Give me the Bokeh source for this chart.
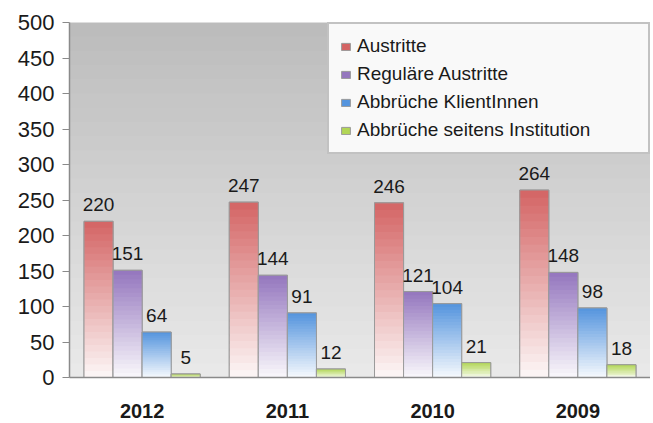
from bokeh.plotting import figure
from bokeh.models import ColumnDataSource, FactorRange, LabelSet, BoxAnnotation, FixedTicker
from bokeh.transform import dodge
from bokeh.core.properties import value
from bokeh.embed import file_html
from bokeh.resources import INLINE

years = ["2012", "2011", "2010", "2009"]
austritte = [220, 247, 246, 264]
regulaere = [151, 144, 121, 148]
abbr_klient = [64, 91, 104, 98]
abbr_inst = [5, 12, 21, 18]
series_names = ["Austritte", "Reguläre Austritte", "Abbrüche KlientInnen", "Abbrüche seitens Institution"]
y_ticks = [0, 50, 100, 150, 200, 250, 300, 350, 400, 450, 500]

series = [austritte, regulaere, abbr_klient, abbr_inst]
base_colors = [(212, 100, 100), (148, 118, 190), (84, 148, 222), (178, 214, 86)]
offsets = [-0.3, -0.1, 0.1, 0.3]
BAR_W = 0.2
FONT = "Liberation Sans"

p = figure(x_range=FactorRange(*years, range_padding=0), y_range=(0, 500),
           width=650, height=420, output_backend="svg", toolbar_location=None,
           min_border_left=69, min_border_top=22, min_border_bottom=43, min_border_right=0)
p.background_fill_color = "#d6d6d6"
p.border_fill_color = "white"
p.outline_line_color = None
p.xgrid.grid_line_color = None
p.ygrid.grid_line_color = None

# vertical gradient background (lighter at the bottom)
NB = 25
top_c = (188, 188, 188)
bot_c = (234, 234, 234)
for i in range(NB):
    f = (i + 0.5) / NB
    c = tuple(int(bot_c[j] + (top_c[j] - bot_c[j]) * f) for j in range(3))
    p.add_layout(BoxAnnotation(bottom=500 * i / NB, top=500 * min(i + 1.5, NB) / NB,
                               fill_color="#%02x%02x%02x" % c, fill_alpha=1.0,
                               line_color=None, level="underlay"))

def mix(c, t):
    # t=0 -> base colour, t=1 -> white
    return "#%02x%02x%02x" % tuple(int(c[j] + (255 - c[j]) * t) for j in range(3))

NS = 24
for name, vals, col, off in zip(series_names, series, base_colors, offsets):
    src = ColumnDataSource(dict(x=years, top=vals, label=[str(v) for v in vals]))
    p.vbar(x=dodge("x", off, range=p.x_range), top="top", width=BAR_W, source=src,
           fill_color=mix(col, 0.0), line_color="#9a9a9a", line_width=1,
           legend_label=name)
    # gradient slices (overlapping to avoid seams)
    for k in range(NS):
        sl = ColumnDataSource(dict(x=years,
                                   bottom=[v * k / NS for v in vals],
                                   top=[v * min(k + 1.6, NS) / NS for v in vals]))
        t = 0.95 * (1 - (k + 0.5) / NS)
        p.vbar(x=dodge("x", off, range=p.x_range), bottom="bottom", top="top", width=BAR_W,
               source=sl, fill_color=mix(col, t), line_color=None)
    # outline on top
    p.vbar(x=dodge("x", off, range=p.x_range), top="top", width=BAR_W, source=src,
           fill_color=None, line_color="#9a9a9a", line_width=1)
    labels = LabelSet(x=dodge("x", off, range=p.x_range), y="top", text="label", source=src,
                      text_align="center", text_baseline="bottom", y_offset=10,
                      text_font=value(FONT), text_font_size="19px", text_color="#1a1a1a")
    p.add_layout(labels)

p.yaxis.ticker = FixedTicker(ticks=y_ticks)
p.yaxis.major_label_text_font = FONT
p.yaxis.major_label_text_font_size = "22px"
p.yaxis.major_label_text_color = "#1a1a1a"
p.yaxis.axis_line_color = "#8a8a8a"
p.yaxis.axis_line_width = 1.5
p.yaxis.major_tick_line_color = "#8a8a8a"
p.yaxis.major_tick_out = 7
p.yaxis.major_tick_in = 0
p.yaxis.minor_tick_line_color = None
p.yaxis.major_label_standoff = 8

p.xaxis.major_label_text_font = FONT
p.xaxis.major_label_text_font_size = "20px"
p.xaxis.major_label_text_font_style = "bold"
p.xaxis.major_label_text_color = "#1a1a1a"
p.xaxis.axis_line_color = "#8a8a8a"
p.xaxis.axis_line_width = 1.5
p.xaxis.major_tick_line_color = None
p.xaxis.minor_tick_line_color = None
p.xaxis.major_label_standoff = 20

lg = p.legend[0]
lg.location = "top_right"
lg.margin = 0
lg.padding = 11
lg.spacing = 6
lg.label_height = 20
lg.label_width = 280
lg.glyph_width = 11
lg.glyph_height = 9
lg.label_standoff = 6
lg.label_text_font = FONT
lg.label_text_font_size = "19px"
lg.label_text_color = "#1a1a1a"
lg.background_fill_color = "#f9f9f9"
lg.background_fill_alpha = 1.0
lg.border_line_color = "#8c8c8c"
lg.border_line_width = 2

open("out.html", "w").write(file_html(p, INLINE))
